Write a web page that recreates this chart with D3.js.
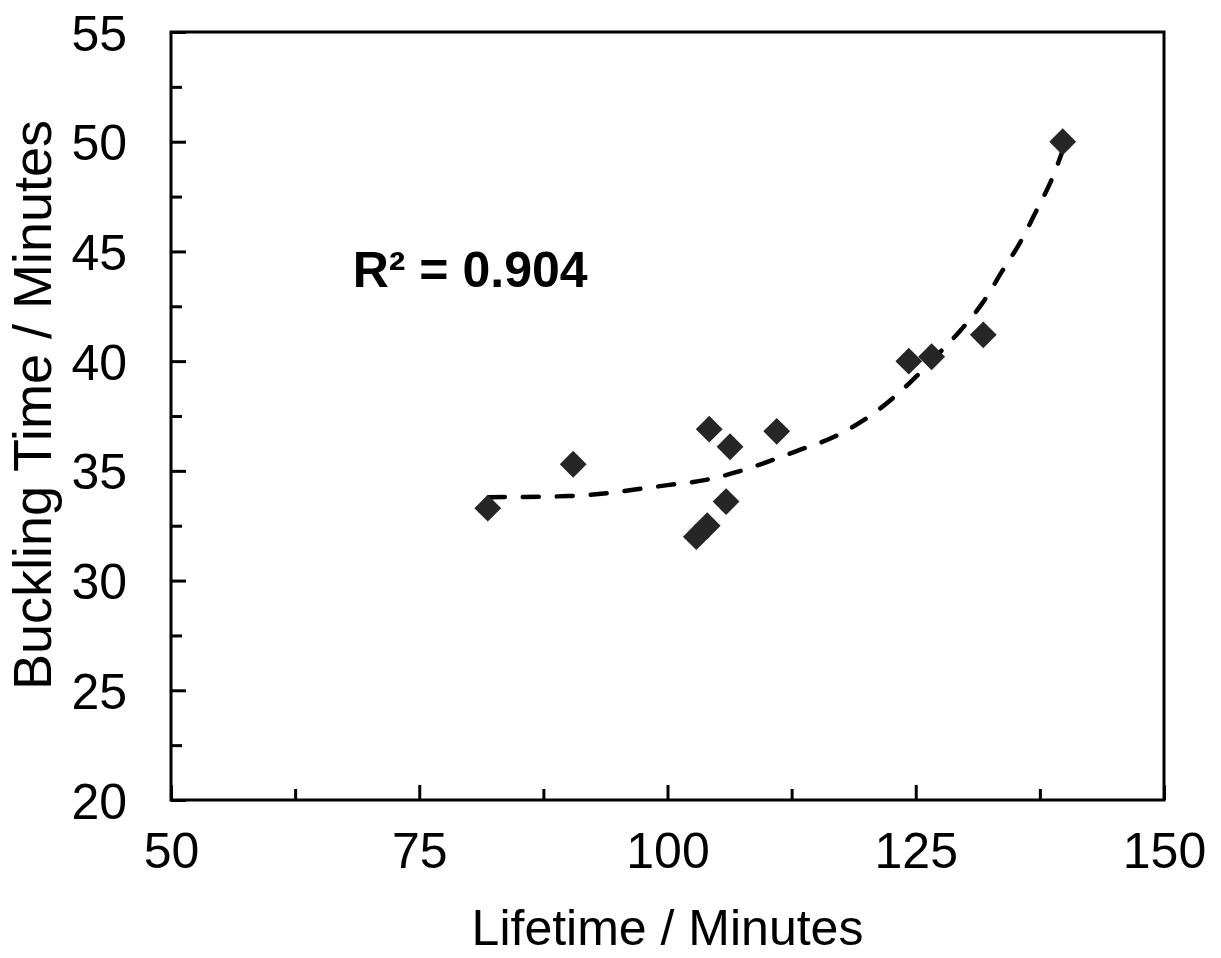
<!DOCTYPE html>
<html>
<head>
<meta charset="utf-8">
<script src="https://cdn.jsdelivr.net/npm/d3@7"></script>
<style>
  body { margin: 0; background: #fff; }
  text { font-family: "Liberation Sans", Arial, sans-serif; fill: #000; }
</style>
</head>
<body>
<div id="graphDiv"></div>
<script>
// measured points
var lifetime = [81.9, 90.5, 102.9, 104.0, 104.2, 105.9, 106.3, 111.0, 124.3, 126.6, 131.8, 139.8];
var buckling = [33.3, 35.3, 32.0, 32.5, 36.9, 33.6, 36.1, 36.8, 40.0, 40.2, 41.2, 50.0];

// trendline
var trendX = [82, 90, 100, 104, 107, 110, 113, 117, 121, 124.6, 127, 129.5, 131.8, 133.7, 135.5, 137.2, 138.8, 139.8];
var trendY = [33.8, 33.85, 34.35, 34.6, 34.95, 35.4, 35.9, 36.6, 37.7, 39.1, 40.2, 41.4, 42.7, 44.1, 45.4, 46.9, 48.4, 49.6];

var xMajor = [50, 75, 100, 125, 150];
var xMinor = [62.5, 87.5, 112.5, 137.5];
var yMajor = [20, 25, 30, 35, 40, 45, 50, 55];
var yMinor = [22.5, 27.5, 32.5, 37.5, 42.5, 47.5, 52.5];

var xTitle = "Lifetime / Minutes";
var yTitle = "Buckling Time / Minutes";
var r2Label = "R² = 0.904";

var margin = {top: 32, right: 57, bottom: 158, left: 171},
    width = 1221 - margin.left - margin.right,
    height = 958 - margin.top - margin.bottom;

var svg = d3.select("#graphDiv")
  .append("svg")
    .attr("width", 1221)
    .attr("height", 958)
  .append("g")
    .attr("transform", "translate(" + margin.left + "," + margin.top + ")");

var x = d3.scaleLinear()
  .domain([50, 150])
  .range([0, width]);

var y = d3.scaleLinear()
  .domain([20, 55])
  .range([height, 0]);

// frame
svg.append("rect")
  .attr("x", 0)
  .attr("y", 0)
  .attr("width", width)
  .attr("height", height)
  .attr("fill", "none")
  .attr("stroke", "#000")
  .attr("stroke-width", 3);

// X axis, ticks pointing inward
var xAxis = svg.append("g")
  .attr("transform", "translate(0," + height + ")")
  .call(d3.axisBottom(x).tickValues(xMajor).tickSize(-15).tickPadding(32).tickFormat(d3.format("d")));
svg.append("g")
  .attr("transform", "translate(0," + height + ")")
  .call(d3.axisBottom(x).tickValues(xMinor).tickSize(-11).tickFormat(""));

// Y axis
var yAxis = svg.append("g")
  .call(d3.axisLeft(y).tickValues(yMajor).tickSize(-15).tickPadding(44).tickFormat(d3.format("d")));
svg.append("g")
  .call(d3.axisLeft(y).tickValues(yMinor).tickSize(-11).tickFormat(""));

svg.selectAll(".domain").remove();
svg.selectAll(".tick line").attr("stroke", "#000").attr("stroke-width", 3);
svg.selectAll(".tick text")
  .style("font-family", '"Liberation Sans", Arial, sans-serif')
  .style("font-size", "50px")
  .attr("fill", "#000");
yAxis.selectAll(".tick text").attr("dy", "0.36em");
xAxis.selectAll(".tick text").attr("dy", "0.71em");

// X Label
svg.append("text")
  .attr("x", width / 2)
  .attr("y", height + 145)
  .style("text-anchor", "middle")
  .style("font-size", "50px")
  .text(xTitle);

// Y Label
svg.append("text")
  .attr("transform", "rotate(-90)")
  .attr("x", 0 - (height / 2) + 11)
  .attr("y", 51 - margin.left)
  .style("text-anchor", "middle")
  .style("font-size", "54px")
  .text(yTitle);

// trendline
var trend = trendX.map(function (d, i) { return [d, trendY[i]]; });
svg.append("path")
  .datum(trend)
  .attr("fill", "none")
  .attr("stroke", "#000")
  .attr("stroke-width", 4.5)
  .attr("stroke-linecap", "round")
  .attr("stroke-dasharray", "16,18")
  .attr("d", d3.line()
    .x(function (d) { return x(d[0]); })
    .y(function (d) { return y(d[1]); })
    .curve(d3.curveMonotoneX));

// diamonds
var pts = lifetime.map(function (d, i) { return {x: d, y: buckling[i]}; });
svg.append("g")
  .selectAll("path")
  .data(pts)
  .enter()
  .append("path")
    .attr("d", d3.symbol().type(d3.symbolSquare).size(360))
    .attr("transform", function (d) { return "translate(" + x(d.x) + "," + y(d.y) + ") rotate(45)"; })
    .attr("fill", "#262626");

// R squared label
svg.append("text")
  .attr("x", x(68.3))
  .attr("y", y(43.4))
  .style("font-size", "50px")
  .style("font-weight", "bold")
  .text(r2Label);
</script>
</body>
</html>
